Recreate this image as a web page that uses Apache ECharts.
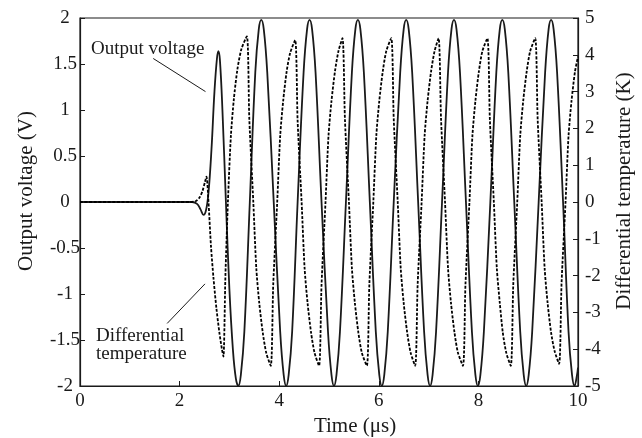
<!DOCTYPE html>
<html>
<head>
<meta charset="utf-8">
<script src="https://cdn.jsdelivr.net/npm/echarts@6/dist/echarts.min.js"></script>
<style>
  html, body { margin: 0; padding: 0; background: #fff; }
  #chart { width: 642px; height: 438px; }
</style>
</head>
<body>
<div id="chart"></div>
<script>
// tick labels
var timeTicks = [0, 2, 4, 6, 8, 10];
var voltTicks = [-2, -1.5, -1, -0.5, 0, 0.5, 1, 1.5, 2];
var tempTicks = [-5, -4, -3, -2, -1, 0, 1, 2, 3, 4, 5];

// output voltage (V) vs time (us)
var voltage = [
  [0, 0], [1, 0], [2, 0], [2.25, 0], [2.35, -0.02], [2.42, -0.08], [2.48, -0.14], [2.53, -0.09],
  [2.58, 0.1], [2.64, 0.57], [2.7, 1.2], [2.75, 1.56], [2.78, 1.64], [2.81, 1.54], [2.86, 1.0],
  [2.93, 0], [3.0, -0.95], [3.07, -1.6], [3.13, -1.92], [3.18, -2.0], [3.23, -1.88], [3.3, -1.41],
  [3.41, 0], [3.52, 1.41], [3.59, 1.88], [3.64, 1.98], [3.69, 1.88], [3.76, 1.41], [3.89, 0],
  [4.02, -1.41], [4.09, -1.88], [4.14, -2.0], [4.19, -1.88], [4.26, -1.41], [4.37, 0],
  [4.49, 1.41], [4.56, 1.88], [4.61, 1.98], [4.66, 1.88], [4.73, 1.41], [4.85, 0],
  [4.98, -1.41], [5.05, -1.88], [5.1, -2.0], [5.15, -1.88], [5.22, -1.41], [5.34, 0],
  [5.46, 1.41], [5.53, 1.88], [5.58, 1.98], [5.63, 1.88], [5.7, 1.41], [5.82, 0],
  [5.94, -1.41], [6.01, -1.88], [6.06, -2.0], [6.11, -1.88], [6.18, -1.41], [6.3, 0],
  [6.43, 1.41], [6.5, 1.88], [6.55, 1.98], [6.6, 1.88], [6.67, 1.41], [6.79, 0],
  [6.91, -1.41], [6.98, -1.88], [7.03, -2.0], [7.08, -1.88], [7.15, -1.41], [7.27, 0],
  [7.39, 1.41], [7.46, 1.88], [7.51, 1.98], [7.56, 1.88], [7.63, 1.41], [7.75, 0],
  [7.87, -1.41], [7.94, -1.88], [7.99, -2.0], [8.04, -1.88], [8.11, -1.41], [8.24, 0],
  [8.36, 1.41], [8.43, 1.88], [8.48, 1.98], [8.53, 1.88], [8.6, 1.41], [8.72, 0],
  [8.84, -1.41], [8.91, -1.88], [8.96, -2.0], [9.01, -1.88], [9.08, -1.41], [9.21, 0],
  [9.34, 1.41], [9.41, 1.88], [9.46, 1.98], [9.51, 1.88], [9.58, 1.41], [9.7, 0],
  [9.81, -1.41], [9.88, -1.88], [9.93, -2.0], [9.98, -1.88], [10, -1.8]
];

// differential temperature (K) vs time (us)
var temperature = [
  [0, 0], [1, 0], [2, 0], [2.2, 0], [2.32, 0.02], [2.4, 0.12], [2.46, 0.3], [2.51, 0.55], [2.54, 0.69],
  [2.58, 0], [2.63, -1.2], [2.68, -2.06], [2.74, -2.9], [2.8, -3.56], [2.85, -4.0], [2.88, -4.2],
  [2.92, -2.0], [2.97, 0], [3.03, 1.8], [3.09, 2.8], [3.16, 3.6], [3.24, 4.15], [3.35, 4.5],
  [3.4, 2.25], [3.48, 0], [3.54, -1.8], [3.6, -2.75], [3.67, -3.55], [3.74, -4.1], [3.83, -4.45],
  [3.88, -2.25], [3.96, 0], [4.02, 1.8], [4.08, 2.75], [4.15, 3.55], [4.22, 4.05], [4.32, 4.4],
  [4.37, 2.2], [4.45, 0], [4.51, -1.8], [4.57, -2.75], [4.64, -3.55], [4.71, -4.1], [4.8, -4.45],
  [4.85, -2.25], [4.93, 0], [4.99, 1.8], [5.05, 2.75], [5.12, 3.55], [5.19, 4.1], [5.27, 4.45],
  [5.32, 2.25], [5.4, 0], [5.46, -1.8], [5.52, -2.75], [5.59, -3.55], [5.66, -4.1], [5.76, -4.45],
  [5.81, -2.25], [5.89, 0], [5.95, 1.8], [6.01, 2.75], [6.08, 3.55], [6.15, 4.1], [6.25, 4.45],
  [6.3, 2.25], [6.38, 0], [6.44, -1.8], [6.5, -2.75], [6.57, -3.55], [6.64, -4.1], [6.73, -4.45],
  [6.78, -2.25], [6.86, 0], [6.92, 1.8], [6.98, 2.75], [7.05, 3.55], [7.12, 4.1], [7.2, 4.45],
  [7.25, 2.25], [7.33, 0], [7.39, -1.8], [7.45, -2.75], [7.52, -3.55], [7.59, -4.1], [7.69, -4.45],
  [7.74, -2.25], [7.82, 0], [7.88, 1.8], [7.94, 2.75], [8.01, 3.55], [8.08, 4.1], [8.18, 4.45],
  [8.23, 2.25], [8.31, 0], [8.37, -1.8], [8.43, -2.75], [8.49, -3.55], [8.56, -4.1], [8.65, -4.45],
  [8.7, -2.25], [8.78, 0], [8.84, 1.8], [8.9, 2.75], [8.97, 3.55], [9.04, 4.1], [9.14, 4.45],
  [9.19, 2.25], [9.27, 0], [9.33, -1.8], [9.39, -2.75], [9.46, -3.55], [9.53, -4.05], [9.62, -4.4],
  [9.67, -2.2], [9.75, 0], [9.81, 1.8], [9.87, 2.75], [9.94, 3.55], [10, 3.95]
];

// leader lines for the two labels, in (time, voltage) units
var voltLeader = [[1.47, 1.56], [2.52, 1.2]];
var tempLeader = [[1.75, -1.32], [2.51, -0.89]];

var serif = '"Liberation Serif", "Times New Roman", serif';
var ink = '#1a1a1a';

var dom = document.getElementById('chart');
var myChart = echarts.init(dom, null, { renderer: 'canvas' });

var option = {
    backgroundColor: '#fff',
    animation: false,
    grid: {
        left: 80,
        right: 64,
        top: 18,
        bottom: 52,
        show: true,
        borderColor: ink,
        borderWidth: 1.2,
        outerBoundsMode: 'none'
    },
    xAxis: {
        type: 'value',
        min: timeTicks[0],
        max: timeTicks[timeTicks.length - 1],
        interval: 2,
        name: 'Time (μs)',
        nameLocation: 'middle',
        nameGap: 30,
        nameTextStyle: { fontFamily: serif, fontSize: 21, color: ink, padding: [0, 0, 0, 52] },
        axisLine: { onZero: false, lineStyle: { color: ink, width: 1.2 } },
        axisTick: { inside: true, length: 5, lineStyle: { color: ink } },
        axisLabel: { fontFamily: serif, fontSize: 19, color: ink, margin: 6 },
        splitLine: { show: false }
    },
    yAxis: [
        {
            type: 'value',
            position: 'left',
            min: voltTicks[0],
            max: voltTicks[voltTicks.length - 1],
            interval: 0.5,
            name: 'Output voltage (V)',
            nameLocation: 'middle',
            nameGap: 43,
            nameRotate: 90,
            nameTextStyle: { fontFamily: serif, fontSize: 21, color: ink, padding: [0, 0, 0, 22] },
            axisLine: { show: true, onZero: false, lineStyle: { color: ink, width: 1.2 } },
            axisTick: { show: true, inside: true, length: 5, lineStyle: { color: ink } },
            axisLabel: { fontFamily: serif, fontSize: 19, color: ink, margin: 15, align: 'center' },
            splitLine: { show: false }
        },
        {
            type: 'value',
            position: 'right',
            min: tempTicks[0],
            max: tempTicks[tempTicks.length - 1],
            interval: 1,
            name: 'Differential temperature (K)',
            nameLocation: 'middle',
            nameGap: 36,
            nameRotate: 90,
            nameTextStyle: { fontFamily: serif, fontSize: 21, color: ink, padding: [0, 0, 0, 22] },
            axisLine: { show: true, onZero: false, lineStyle: { color: ink, width: 1.2 } },
            axisTick: { show: true, inside: true, length: 5, lineStyle: { color: ink } },
            axisLabel: { fontFamily: serif, fontSize: 19, color: ink, margin: 7, align: 'left' },
            splitLine: { show: false }
        }
    ],
    series: [
        {
            name: 'Output voltage',
            type: 'line',
            yAxisIndex: 0,
            data: voltage,
            showSymbol: false,
            smooth: 0.4,
            lineStyle: { color: ink, width: 1.8, type: 'solid' },
            markLine: {
                silent: true,
                symbol: ['none', 'none'],
                label: { show: false },
                lineStyle: { color: ink, width: 1, type: 'solid' },
                data: [
                    [{ coord: voltLeader[0] }, { coord: voltLeader[1] }],
                    [{ coord: tempLeader[0] }, { coord: tempLeader[1] }]
                ]
            }
        },
        {
            name: 'Differential temperature',
            type: 'line',
            yAxisIndex: 1,
            data: temperature,
            showSymbol: false,
            smooth: 0.25,
            lineStyle: { color: '#000', width: 1.8, type: [3, 1.6] }
        }
    ],
    graphic: [
        {
            type: 'text',
            x: 91,
            y: 49,
            style: {
                text: 'Output voltage',
                font: '19px ' + serif,
                fill: ink,
                textVerticalAlign: 'middle'
            }
        },
        {
            type: 'text',
            x: 96,
            y: 345,
            style: {
                text: 'Differential\ntemperature',
                font: '19px ' + serif,
                fill: ink,
                lineHeight: 18,
                textVerticalAlign: 'middle'
            }
        }
    ]
};

if (option && typeof option === 'object') {
    myChart.setOption(option);
}

window.addEventListener('resize', myChart.resize);
</script>
</body>
</html>
